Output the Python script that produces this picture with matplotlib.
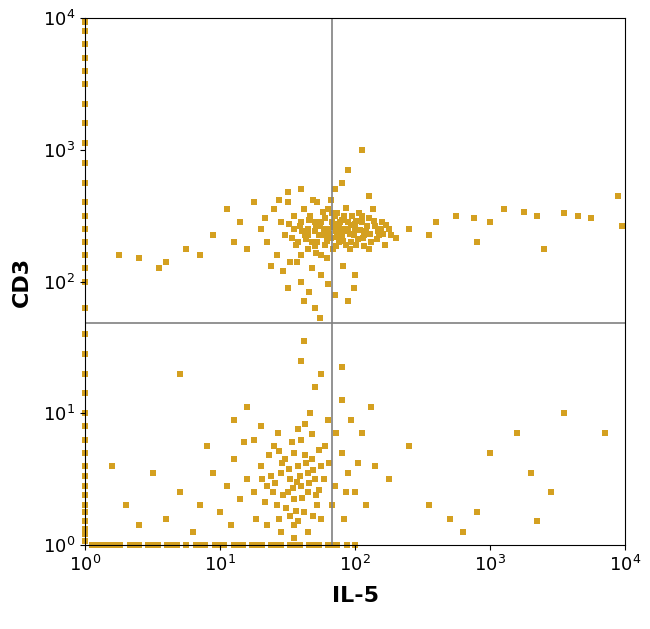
import numpy as np
import matplotlib
matplotlib.use("Agg")
import matplotlib.pyplot as plt

plt.rcParams['font.family'] = ['Liberation Sans Narrow', 'DejaVu Sans']
plt.rcParams['mathtext.fontset'] = 'custom'
plt.rcParams['mathtext.rm'] = 'Liberation Sans Narrow'

# events, stored as log10(IL-5), log10(CD3)
upper = """1.30 2.40 1.35 2.30 1.40 2.55 1.42 2.20 1.45 2.45 1.48 2.35 1.50 2.60 1.52 2.15 1.55 2.40 1.55 2.50
1.58 2.30 1.60 2.45 1.60 2.20 1.62 2.55 1.63 2.35 1.65 2.40 1.65 2.25 1.67 2.50 1.68 2.10 1.70 2.38
1.70 2.45 1.72 2.30 1.72 2.60 1.74 2.42 1.75 2.20 1.76 2.35 1.78 2.48 1.78 2.28 1.80 2.40 1.80 2.55
1.82 2.33 1.83 2.45 1.84 2.25 1.85 2.50 1.86 2.38 1.88 2.42 1.88 2.30 1.90 2.47 1.90 2.35 1.92 2.40
1.93 2.28 1.95 2.45 1.96 2.36 1.98 2.50 2.00 2.40 2.02 2.32 2.05 2.45 2.08 2.38 2.10 2.48 2.12 2.30
2.15 2.42 2.18 2.35 2.20 2.45 2.25 2.40 2.30 2.33 1.20 2.25 1.15 2.45 1.10 2.30 1.05 2.55 0.95 2.35
0.85 2.20 0.75 2.25 0.60 2.15 0.55 2.10 1.50 1.95 1.60 2.00 1.75 2.05 1.85 1.90 2.00 2.05 1.95 1.85
1.70 1.80 2.10 2.65 1.90 2.75 2.05 3.00 1.95 2.85 1.85 2.70 1.60 2.70 1.50 2.68 2.40 2.40 2.55 2.35
2.60 2.45 2.75 2.50 2.88 2.48 2.90 2.30 3.00 2.45 3.10 2.55 3.25 2.53 3.35 2.50 3.40 2.25 3.55 2.52
3.65 2.50 3.75 2.48 3.98 2.42 3.95 2.65 0.40 2.18 0.25 2.20 1.25 2.60 1.82 2.62 1.87 2.52 1.93 2.56
1.97 2.30 2.03 2.52 2.07 2.27 1.79 2.18 1.69 2.62 1.57 2.15 1.47 2.08 1.38 2.12 1.33 2.48 1.44 2.62
1.66 1.92 1.80 1.98 1.91 2.12 2.13 2.55 2.22 2.28 1.74 1.72 1.99 1.95 1.62 1.85
1.81 2.36 1.84 2.41 1.87 2.34 1.89 2.45 1.91 2.31 1.94 2.38 1.97 2.43 1.99 2.35 2.01 2.46 2.04 2.39
2.06 2.33 2.09 2.42 2.11 2.36 2.14 2.46 2.16 2.32 2.19 2.40 2.21 2.36 2.23 2.43 2.27 2.35 1.77 2.40
1.73 2.35 1.71 2.42 1.68 2.30 1.66 2.47 1.64 2.32 1.61 2.38 1.59 2.42 1.56 2.28 1.53 2.33 1.51 2.44
1.79 2.31 1.83 2.52 1.86 2.27 1.92 2.50 1.96 2.25 2.01 2.28 2.05 2.50 2.10 2.25 1.76 2.53 1.71 2.22
1.95 2.40 1.85 2.44 1.75 2.45 1.65 2.35 2.00 2.44 1.90 2.39 1.80 2.34 1.70 2.27 2.07 2.35 2.17 2.38"""
lower = """1.30 0.60 1.35 0.45 1.40 0.75 1.42 0.30 1.45 0.55 1.48 0.65 1.50 0.40 1.52 0.50 1.55 0.70 1.55 0.35
1.58 0.60 1.60 0.45 1.60 0.80 1.62 0.25 1.65 0.55 1.65 0.40 1.68 0.65 1.70 0.50 1.72 0.30 1.75 0.60
1.20 0.50 1.15 0.35 1.10 0.65 1.25 0.80 1.30 0.90 1.05 0.45 1.00 0.25 0.95 0.55 0.85 0.30 0.70 0.40
0.60 0.20 0.50 0.55 1.35 0.15 1.45 0.10 1.55 0.15 1.65 0.10 1.75 0.20 1.85 0.45 1.90 0.70 1.95 0.55
2.00 0.40 2.05 0.85 1.80 0.95 1.90 1.10 1.70 1.20 1.60 1.40 1.62 1.55 1.75 1.30 1.90 1.35 2.15 0.60
2.25 0.50 2.40 0.75 2.55 0.30 2.70 0.20 2.80 0.10 2.90 0.25 3.00 0.70 3.20 0.85 3.30 0.55 3.45 0.40
3.55 1.00 3.85 0.85 3.35 0.18 0.20 0.60 0.30 0.30 0.40 0.15 1.10 0.95 1.20 1.05 0.70 1.30 1.55 0.05
1.38 0.52 1.47 0.38 1.57 0.48 1.63 0.68 1.73 0.42 1.52 0.22 1.43 0.85 1.33 0.33 1.27 0.20 1.78 0.75
1.83 0.30 1.92 0.20 2.08 0.30 1.97 0.95 0.90 0.75 0.80 0.10 1.08 0.15 1.18 0.78 2.12 1.05 1.67 1.00
1.41 0.47 1.46 0.62 1.51 0.58 1.54 0.43 1.59 0.52 1.61 0.36 1.64 0.62 1.66 0.47 1.69 0.57 1.71 0.38
1.49 0.28 1.56 0.26 1.36 0.68 1.44 0.71 1.53 0.78 1.58 0.88 1.63 0.92 1.68 0.84 1.73 0.72 1.77 0.50
1.25 0.40 1.31 0.50 1.39 0.40 1.44 0.20 1.58 0.18 1.69 0.22 1.81 0.62 1.86 0.85 1.93 0.40 2.02 0.62"""
bottom_x = """0.05 0.12 0.19 0.26 0.33 0.40 0.47 0.54 0.61 0.68 0.75 0.82 0.89 0.96 1.03 1.10 1.17 1.24 1.31
1.38 1.45 1.52 1.59 1.66 1.73 1.80 1.87 1.94 2.00 0.09 0.16 0.23 0.36 0.50 0.64 0.86 1.00 1.14 1.28
1.42 1.56 1.70 1.84"""
left_y = """0.03 0.08 0.12 0.18 0.25 0.30 0.38 0.45 0.52 0.60 0.70 0.80 0.90 1.00 1.15 1.30 1.45 1.60 1.80
2.00 2.10 2.20 2.30 2.40 2.50 2.60 2.75 2.90 3.05 3.20 3.35 3.50 3.60 3.70 3.80 3.90 3.97"""

def pairs(s):
    v = np.array(s.split(), dtype=float).reshape(-1, 2)
    return v[:, 0], v[:, 1]

ux, uy = pairs(upper)
lx, ly = pairs(lower)
bx = np.array(bottom_x.split(), dtype=float)
ly0 = np.array(left_y.split(), dtype=float)

log_il5 = np.concatenate([ux, lx, bx, np.zeros_like(ly0)])
log_cd3 = np.concatenate([uy, ly, np.zeros_like(bx), ly0])
il5 = 10 ** log_il5
cd3 = 10 ** log_cd3

quad_x = 68
quad_y = 48

fig = plt.figure(figsize=(6.5, 6.29), dpi=100)
ax = fig.add_axes([85/650, 84/629, 540/650, 527/629])
ax.scatter(il5, cd3, marker='s', s=14, color='#D4A020', linewidths=0, clip_on=False)
ax.set_xscale('log'); ax.set_yscale('log')
ax.set_xlim(1, 1e4); ax.set_ylim(1, 1e4)
ax.axvline(quad_x, color='#808080', lw=1.2)
ax.axhline(quad_y, color='#808080', lw=1.2)
ax.set_xticks([1, 10, 100, 1000, 10000])
ax.set_yticks([1, 10, 100, 1000, 10000])
ax.set_xticklabels([r'$\mathregular{10^{%d}}$' % i for i in range(5)])
ax.set_yticklabels([r'$\mathregular{10^{%d}}$' % i for i in range(5)])
ax.tick_params(labelsize=13, direction='out')
ax.minorticks_off()
ax.set_xlabel('IL-5', fontsize=16, fontweight='bold', labelpad=8)
ax.set_ylabel('CD3', fontsize=16, fontweight='bold', labelpad=8)
fig.savefig('out.png', dpi=100)
